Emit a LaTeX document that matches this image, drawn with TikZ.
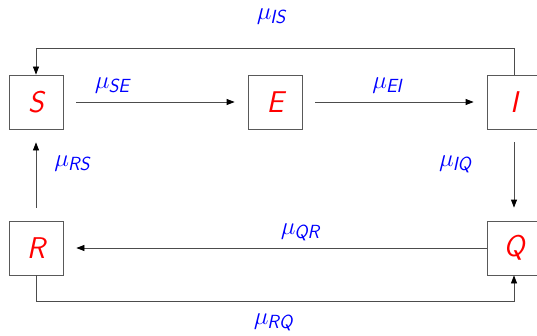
\documentclass[tikz,border=0pt]{standalone}
\usepackage{fontspec}
\usetikzlibrary{arrows.meta}
\newcommand{\lab}[1]{{\fontsize{30}{32}\selectfont$\mu$}\kern-1pt{\fontsize{19}{20}\selectfont\raisebox{-4pt}{\sffamily\itshape #1}}}
\begin{document}
\begin{tikzpicture}[x=1pt,y=1pt,
  box/.style={draw=black!65, line width=0.8pt, minimum width=54pt, minimum height=54pt, inner sep=0pt,
    text=red, font=\fontsize{30}{32}\selectfont\sffamily\itshape},
  arr/.style={draw=black!70, line width=0.8pt, -{Triangle[length=8pt,width=6pt,color=black]}},
  sh/.style={shorten >=13pt, shorten <=13pt},
  rate/.style={text=blue, inner sep=0pt}]
\useasboundingbox (0,0) rectangle (537,335);
\node[box] (S) at (36,233) {S};
\node[box] (E) at (275,233) {E};
\node[box] (I) at (514,233) {I};
\node[box] (R) at (36,87) {R};
\node[box] (Q) at (514,87) {Q};
\coordinate (topy) at (0,286.5);
\coordinate (boty) at (0,34);
\draw[arr,sh] (S) -- (E);
\draw[arr,sh] (E) -- (I);
\draw[arr,sh] (I) -- (Q);
\draw[arr,sh] (R) -- (S);
\draw[arr,shorten >=13pt] (Q) -- (R);
\draw[arr] (I.north) -- (I.north |- topy) -| (S.north);
\draw[arr] (R.south) -- (R.south |- boty) -| (Q.south);
\node[rate] (lIS) at (271,318) {\lab{IS}};
\node[rate] (lSE) at (112,249) {\lab{SE}};
\node[rate] (lEI) at (387,249) {\lab{EI}};
\node[rate] (lRS) at (72,171) {\lab{RS}};
\node[rate] (lIQ) at (455,171) {\lab{IQ}};
\node[rate] (lQR) at (300,103) {\lab{QR}};
\node[rate] (lRQ) at (273,13) {\lab{RQ}};
\end{tikzpicture}
\end{document}
